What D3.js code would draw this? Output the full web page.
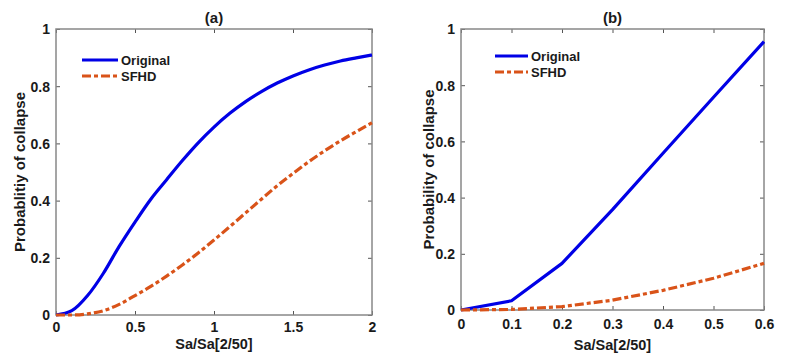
<!DOCTYPE html>
<html>
<head>
<meta charset="utf-8">
<script src="https://cdn.jsdelivr.net/npm/d3@7"></script>
<style>
  html, body { margin: 0; padding: 0; background: #fff; }
  text { font-family: "Liberation Sans", Arial, sans-serif; font-weight: bold; fill: #1a1a1a; }
</style>
</head>
<body>
<svg id="chart" width="800" height="357"></svg>
<script>
// ---- Data ----
const seriesNames = ["Original", "SFHD"];

const xA = [0, 0.1, 0.2, 0.3, 0.4, 0.5, 0.6, 0.7, 0.8, 0.9, 1.0, 1.1, 1.2, 1.3, 1.4, 1.5, 1.6, 1.7, 1.8, 1.9, 2.0];
const originalA = [0, 0.015, 0.068, 0.146, 0.24, 0.325, 0.405, 0.473, 0.54, 0.602, 0.657, 0.705, 0.746, 0.781, 0.811, 0.836, 0.857, 0.874, 0.888, 0.899, 0.909];
const sfhdA = [0, 0, 0.004, 0.015, 0.037, 0.068, 0.1, 0.136, 0.175, 0.217, 0.262, 0.309, 0.357, 0.405, 0.452, 0.495, 0.536, 0.574, 0.609, 0.641, 0.672];

const xB = [0, 0.1, 0.2, 0.3, 0.4, 0.5, 0.6];
const originalB = [0, 0.033, 0.166, 0.357, 0.558, 0.757, 0.955];
const sfhdB = [0, 0.002, 0.012, 0.035, 0.07, 0.113, 0.166];

const xTicksA = [0, 0.5, 1, 1.5, 2];
const xTicksB = [0, 0.1, 0.2, 0.3, 0.4, 0.5, 0.6];
const yTicks = [0, 0.2, 0.4, 0.6, 0.8, 1];

const titles = ["(a)", "(b)"];
const xLabel = "Sa/Sa[2/50]";
const yLabels = ["Probablitiy of collapse", "Probability of collapse"];

// ---- Styles ----
const colors = { Original: "#0000e6", SFHD: "#d95319" };
const dashes = { Original: null, SFHD: "9,3,4,3" };

const svg = d3.select("#chart");

const panels = [
  { x: xA, s: [originalA, sfhdA], xt: xTicksA, xd: [0, 2], box: { l: 56, r: 372, t: 29, b: 315 }, curve: d3.curveMonotoneX,
    title: titles[0], yl: yLabels[0], ylx: 25, xlY: 349, xtY: 332, legend: { x1: 82, x2: 118, y: 60, dy: 16 } },
  { x: xB, s: [originalB, sfhdB], xt: xTicksB, xd: [0, 0.6], box: { l: 461, r: 764, t: 29, b: 310 }, curve: d3.curveLinear,
    title: titles[1], yl: yLabels[1], ylx: 434, xlY: 350, xtY: 329, legend: { x1: 495, x2: 528, y: 56, dy: 16 } }
];

const fmt = v => (v === 0 ? "0" : d3.format("~g")(v));

panels.forEach(p => {
  const b = p.box;
  const x = d3.scaleLinear().domain(p.xd).range([b.l, b.r]);
  const y = d3.scaleLinear().domain([0, 1]).range([b.b, b.t]);
  const g = svg.append("g");

  const tickLen = 4;
  const axB = g.append("g").attr("transform", `translate(0,${b.b})`)
    .call(d3.axisBottom(x).tickValues(p.xt).tickSizeInner(-tickLen).tickSizeOuter(0).tickFormat(fmt));
  const axT = g.append("g").attr("transform", `translate(0,${b.t})`)
    .call(d3.axisTop(x).tickValues(p.xt).tickSizeInner(-tickLen).tickSizeOuter(0).tickFormat(""));
  const axL = g.append("g").attr("transform", `translate(${b.l},0)`)
    .call(d3.axisLeft(y).tickValues(yTicks).tickSizeInner(-tickLen).tickSizeOuter(0).tickFormat(fmt));
  const axR = g.append("g").attr("transform", `translate(${b.r},0)`)
    .call(d3.axisRight(y).tickValues(yTicks).tickSizeInner(-tickLen).tickSizeOuter(0).tickFormat(""));
  [axB, axT, axL, axR].forEach(a => {
    a.select(".domain").remove();
    a.selectAll(".tick line").attr("stroke", "#555").attr("stroke-width", 1);
    a.selectAll("text").attr("font-size", 14).attr("font-family", "Liberation Sans, Arial, sans-serif")
      .attr("font-weight", "bold").attr("fill", "#1a1a1a");
  });
  axB.selectAll("text").attr("dy", null).attr("y", p.xtY - b.b);
  axL.selectAll("text").attr("x", -6).attr("dy", "0.35em");

  g.append("rect").attr("x", b.l).attr("y", b.t).attr("width", b.r - b.l).attr("height", b.b - b.t)
    .attr("fill", "none").attr("stroke", "#888").attr("stroke-width", 1.5);

  const line = d3.line().x((d, i) => x(p.x[i])).y(d => y(d)).curve(p.curve);
  p.s.forEach((vals, k) => {
    const name = seriesNames[k];
    g.append("path").datum(vals).attr("d", line)
      .attr("fill", "none").attr("stroke", colors[name]).attr("stroke-width", 3.2)
      .attr("stroke-linejoin", "round")
      .attr("stroke-dasharray", dashes[name]);
  });

  g.append("text").attr("x", (b.l + b.r) / 2).attr("y", 23).attr("text-anchor", "middle")
    .attr("font-size", 15).text(p.title);
  g.append("text").attr("x", (b.l + b.r) / 2).attr("y", p.xlY).attr("text-anchor", "middle")
    .attr("font-size", 14.5).text(xLabel);
  g.append("text").attr("transform", `translate(${p.ylx},${(b.t + b.b) / 2}) rotate(-90)`)
    .attr("text-anchor", "middle").attr("font-size", 15).text(p.yl);

  seriesNames.forEach((name, k) => {
    const ly = p.legend.y + k * p.legend.dy;
    g.append("line").attr("x1", p.legend.x1).attr("x2", p.legend.x2).attr("y1", ly).attr("y2", ly)
      .attr("stroke", colors[name]).attr("stroke-width", 3.2).attr("stroke-dasharray", dashes[name]);
    g.append("text").attr("x", p.legend.x2 + 3).attr("y", ly).attr("dy", "0.35em")
      .attr("font-size", 13).text(name);
  });
});
</script>
</body>
</html>
